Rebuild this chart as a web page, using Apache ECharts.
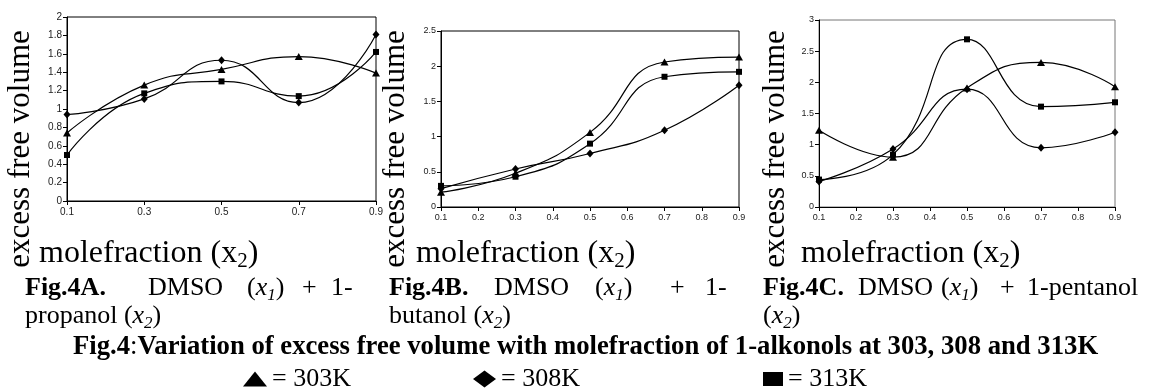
<!DOCTYPE html>
<html>
<head>
<meta charset="utf-8">
<script src="https://cdn.jsdelivr.net/npm/echarts@6/dist/echarts.min.js"></script>
<style>
html,body{margin:0;padding:0;background:#fff;}
#c{width:1151px;height:389px;}
</style>
</head>
<body>
<div id="c"></div>
<script>
// ---- data ----
const xA = ['0.1', '0.3', '0.5', '0.7', '0.9'];
const xBC = [0.1, 0.3, 0.5, 0.7, 0.9];
// Fig.4A  DMSO + 1-propanol
const a303 = [0.74, 1.26, 1.43, 1.57, 1.39];
const a308 = [0.94, 1.11, 1.53, 1.07, 1.81];
const a313 = [0.50, 1.17, 1.30, 1.14, 1.62];
// Fig.4B  DMSO + 1-butanol
const b303 = [0.21, 0.48, 1.06, 2.06, 2.13];
const b308 = [0.26, 0.54, 0.76, 1.09, 1.73];
const b313 = [0.30, 0.43, 0.90, 1.85, 1.92];
// Fig.4C  DMSO + 1-pentanol
const c303 = [1.23, 0.80, 1.91, 2.32, 1.93];
const c308 = [0.41, 0.93, 1.89, 0.95, 1.20];
const c313 = [0.44, 0.84, 2.69, 1.61, 1.68];
const seriesNames = ['= 303K', '= 308K', '= 313K'];
const yMax = [2, 2.5, 3];
const yStep = [0.2, 0.5, 0.5];

const SERIF = '"Liberation Serif", "Times New Roman", serif';
const SANS = '"Liberation Sans", Arial, sans-serif';

const grids = [
  {left: 67, top: 17, width: 309, height: 184, borderColor: '#000'},
  {left: 441, top: 31, width: 298, height: 176, borderColor: '#000'},
  {left: 819, top: 20, width: 296, height: 187, borderColor: '#777'}
].map(g => Object.assign(g, {show: true, borderWidth: 1, backgroundColor: 'transparent'}));

function axisCommon(fs) {
  return {
    axisLine: {show: true, lineStyle: {color: '#000', width: 1}},
    axisTick: {show: true, length: 4, lineStyle: {color: '#000'}},
    splitLine: {show: false},
    axisLabel: {fontSize: fs, color: '#222', fontFamily: SANS, margin: 6}
  };
}

const xAxes = [
  Object.assign({type: 'category', gridIndex: 0, data: xA, boundaryGap: false}, axisCommon(10)),
  Object.assign({type: 'value', gridIndex: 1, min: 0.1, max: 0.9, interval: 0.1}, axisCommon(9)),
  Object.assign({type: 'value', gridIndex: 2, min: 0.1, max: 0.9, interval: 0.1}, axisCommon(9))
];
xAxes[1].axisLabel.formatter = v => v.toFixed(1);
xAxes[2].axisLabel.formatter = v => v.toFixed(1);
const yAxes = [0, 1, 2].map(i => Object.assign({type: 'value', gridIndex: i, min: 0, max: yMax[i], interval: yStep[i]}, axisCommon(i === 0 ? 10 : 9)));
yAxes.forEach(y => { y.axisLabel.margin = 5; });

const symbols = ['triangle', 'diamond', 'rect'];
const symSizes = [[8, 7], [7, 8], [6, 6]];
function mk(i, k, data) {
  return {
    type: 'line', name: seriesNames[k], xAxisIndex: i, yAxisIndex: i,
    data: data, smooth: 0.5, symbol: symbols[k], symbolSize: symSizes[k], showSymbol: true,
    lineStyle: {color: '#000', width: 1.2}, itemStyle: {color: '#000'}, z: 3, animation: false
  };
}
const series = [
  mk(0, 0, a303), mk(0, 1, a308), mk(0, 2, a313),
  mk(1, 0, xBC.map((x, j) => [x, b303[j]])), mk(1, 1, xBC.map((x, j) => [x, b308[j]])), mk(1, 2, xBC.map((x, j) => [x, b313[j]])),
  mk(2, 0, xBC.map((x, j) => [x, c303[j]])), mk(2, 1, xBC.map((x, j) => [x, c308[j]])), mk(2, 2, xBC.map((x, j) => [x, c313[j]]))
];

// rich text helper: baseline-positioned text
function richStyles(S) {
  const L = Math.round(S * 1.2);
  const sub = Math.round(S * 0.65);
  const Ls = Math.round(S * 0.61);
  return {
    r: {fontSize: S, fontFamily: SERIF, lineHeight: L, color: '#000'},
    b: {fontSize: S, fontFamily: SERIF, fontWeight: 'bold', lineHeight: L, color: '#000'},
    i: {fontSize: S, fontFamily: SERIF, fontStyle: 'italic', lineHeight: L, color: '#000'},
    s: {fontSize: sub, fontFamily: SERIF, lineHeight: Ls, verticalAlign: 'bottom', color: '#000'},
    si: {fontSize: sub, fontFamily: SERIF, fontStyle: 'italic', lineHeight: Ls, verticalAlign: 'bottom', color: '#000'}
  };
}
function T(x, base, text, S) {
  return {
    type: 'text', x: x, y: base - 0.33 * S, silent: true,
    style: {text: text, rich: richStyles(S), verticalAlign: 'middle', align: 'left', fill: '#000', font: S + 'px ' + SERIF}
  };
}
function vLabel(cx, cy) {
  return {
    type: 'text', x: cx, y: cy, rotation: Math.PI / 2, silent: true,
    style: {text: 'excess free volume', font: '31px ' + SERIF, fill: '#000', align: 'center', verticalAlign: 'middle'}
  };
}
const CS = 26;
const XL = '{r|molefraction (x}{s|2}{r|)}';
const graphic = [
  vLabel(21, 149), vLabel(396, 149), vLabel(776, 149),
  T(39, 264, XL, 32),
  T(416, 264, XL, 32),
  T(801, 264, XL, 32),
  // captions
  T(25, 297, '{b|Fig.4A.}', CS), T(148, 297, '{r|DMSO}', CS), T(247, 297, '{r|(}{i|x}{si|1}{r|)}', CS), T(302, 297, '{r|+}', CS), T(331, 297, '{r|1-}', CS),
  T(25, 325, '{r|propanol (}{i|x}{si|2}{r|)}', CS),
  T(389, 297, '{b|Fig.4B.}', CS), T(494, 297, '{r|DMSO}', CS), T(595, 297, '{r|(}{i|x}{si|1}{r|)}', CS), T(670, 297, '{r|+}', CS), T(705, 297, '{r|1-}', CS),
  T(389, 325, '{r|butanol (}{i|x}{si|2}{r|)}', CS),
  T(763, 297, '{b|Fig.4C.}', CS), T(858, 297, '{r|DMSO}', CS), T(941, 297, '{r|(}{i|x}{si|1}{r|)}', CS), T(1000, 297, '{r|+}', CS), T(1027, 297, '{r|1-pentanol}', CS),
  T(763, 325, '{r|(}{i|x}{si|2}{r|)}', CS),
  T(73, 356, '{b|Fig.4}{r|:}{b|Variation of excess free volume with molefraction of 1-alkonols at 303, 308 and 313K}', 26.7)
];

function legendAt(left, k, icon, w, h) {
  return {
    left: left, top: 366, padding: 0, itemGap: 0, itemWidth: w, itemHeight: h,
    data: [{name: seriesNames[k], icon: icon}],
    selectedMode: false,
    textStyle: {fontFamily: SERIF, fontSize: 26, color: '#000'},
    itemStyle: {color: '#000'}
  };
}

const chart = echarts.init(document.getElementById('c'), null, {renderer: 'canvas'});
chart.setOption({
  backgroundColor: '#fff',
  animation: false,
  grid: grids,
  xAxis: xAxes,
  yAxis: yAxes,
  series: series,
  legend: [legendAt(243, 0, 'triangle', 24, 15), legendAt(473, 1, 'diamond', 23, 17), legendAt(763, 2, 'rect', 20, 14)],
  graphic: graphic
});
</script>
</body>
</html>
